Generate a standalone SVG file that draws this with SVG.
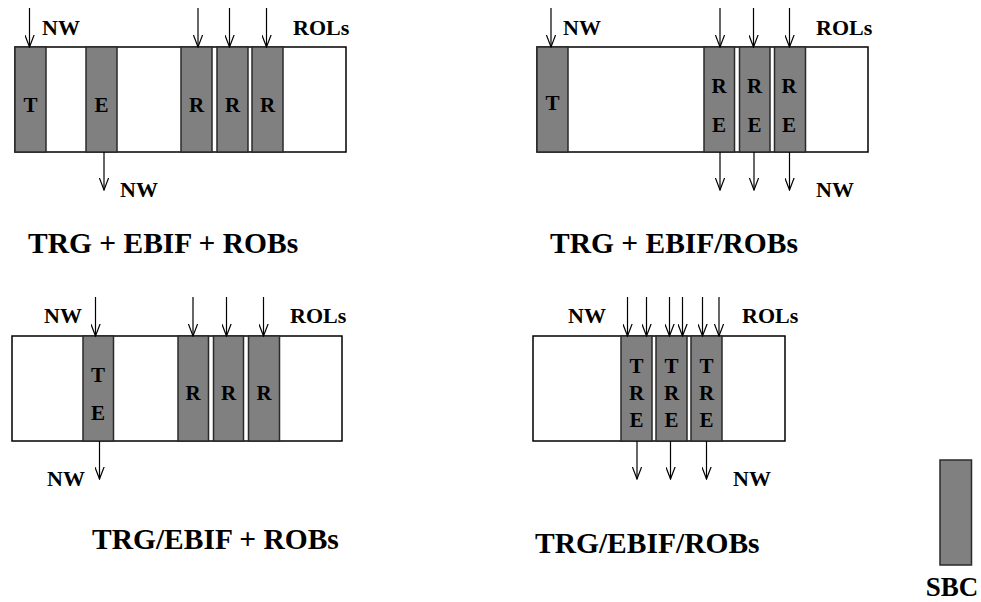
<svg xmlns="http://www.w3.org/2000/svg" width="981" height="602" viewBox="0 0 981 602" font-family="'Liberation Serif', 'Times New Roman', 'DejaVu Serif', serif" font-weight="bold">
<style>
text{font-family:'Liberation Serif','Times New Roman','DejaVu Serif',serif;font-weight:bold;fill:#000}
.lbl{font-size:22px}
.let{font-size:21px}
.cap{font-size:29.5px}
.mid{text-anchor:middle}
.box{fill:#fff;stroke:#000;stroke-width:1.5}
.bar{fill:#808080;stroke:#2a2a2a;stroke-width:1.5}
.arr{stroke:#000;stroke-width:1.2;fill:none;marker-end:url(#ah)}
</style>
<defs>
<marker id="ah" viewBox="0 0 13 10" refX="12.3" refY="5" markerWidth="13" markerHeight="10" markerUnits="userSpaceOnUse" orient="auto">
<path d="M0,0.3 L12.3,5 L0,9.7" fill="none" stroke="#000" stroke-width="1.2"/>
</marker>
</defs>
<rect width="981" height="602" fill="#fff"/>

<!-- Panel 1 -->
<g id="panel1">
<rect class="box" x="15" y="47" width="331" height="105"/>
<g id="p1-T"><rect class="bar" x="15" y="47" width="31" height="105"/><text class="let mid" x="30.5" y="112">T</text></g>
<g id="p1-E"><rect class="bar" x="86" y="47" width="31" height="105"/><text class="let mid" x="101.5" y="112">E</text></g>
<g id="p1-R1"><rect class="bar" x="181" y="47" width="31" height="105"/><text class="let mid" x="196.5" y="112">R</text></g>
<g id="p1-R2"><rect class="bar" x="217" y="47" width="31" height="105"/><text class="let mid" x="232.5" y="112">R</text></g>
<g id="p1-R3"><rect class="bar" x="252" y="47" width="31" height="105"/><text class="let mid" x="267.5" y="112">R</text></g>
<text class="lbl" x="42" y="35">NW</text>
<text class="lbl" x="293" y="35">ROLs</text>
<text class="lbl" x="120" y="197">NW</text>
<text class="cap" x="28" y="253">TRG + EBIF + ROBs</text>
</g>

<!-- Panel 2 -->
<g id="panel2">
<rect class="box" x="537" y="47" width="331" height="105"/>
<g id="p2-T"><rect class="bar" x="537" y="47" width="31" height="105"/><text class="let mid" x="552.5" y="110">T</text></g>
<g id="p2-RE1"><rect class="bar" x="704" y="47" width="30.5" height="105"/><text class="let mid" x="719" y="93">R</text><text class="let mid" x="719" y="132">E</text></g>
<g id="p2-RE2"><rect class="bar" x="739.5" y="47" width="30.5" height="105"/><text class="let mid" x="754.5" y="93">R</text><text class="let mid" x="754.5" y="132">E</text></g>
<g id="p2-RE3"><rect class="bar" x="774.5" y="47" width="31" height="105"/><text class="let mid" x="789" y="93">R</text><text class="let mid" x="789" y="132">E</text></g>
<text class="lbl" x="563" y="35">NW</text>
<text class="lbl" x="816" y="35">ROLs</text>
<text class="lbl" x="816" y="197">NW</text>
<text class="cap" x="550" y="253">TRG + EBIF/ROBs</text>
</g>

<!-- Panel 3 -->
<g id="panel3">
<rect class="box" x="12" y="336" width="330" height="105"/>
<g id="p3-TE"><rect class="bar" x="83" y="336" width="30.5" height="105"/><text class="let mid" x="98" y="382">T</text><text class="let mid" x="98" y="420">E</text></g>
<g id="p3-R1"><rect class="bar" x="178" y="336" width="30.5" height="105"/><text class="let mid" x="193" y="400">R</text></g>
<g id="p3-R2"><rect class="bar" x="213.5" y="336" width="30" height="105"/><text class="let mid" x="228.5" y="400">R</text></g>
<g id="p3-R3"><rect class="bar" x="248.5" y="336" width="31" height="105"/><text class="let mid" x="264" y="400">R</text></g>
<text class="lbl" x="44" y="323">NW</text>
<text class="lbl" x="290" y="323">ROLs</text>
<text class="lbl" x="47" y="486">NW</text>
<text class="cap" x="92" y="549">TRG/EBIF + ROBs</text>
</g>

<!-- Panel 4 -->
<g id="panel4">
<rect class="box" x="533" y="336" width="252" height="105"/>
<g id="p4-TRE1"><rect class="bar" x="621" y="336" width="31" height="105"/><text class="let mid" x="636.5" y="373">T</text><text class="let mid" x="636.5" y="400">R</text><text class="let mid" x="636.5" y="427">E</text></g>
<g id="p4-TRE2"><rect class="bar" x="656" y="336" width="31" height="105"/><text class="let mid" x="671.5" y="373">T</text><text class="let mid" x="671.5" y="400">R</text><text class="let mid" x="671.5" y="427">E</text></g>
<g id="p4-TRE3"><rect class="bar" x="691" y="336" width="31" height="105"/><text class="let mid" x="706.5" y="373">T</text><text class="let mid" x="706.5" y="400">R</text><text class="let mid" x="706.5" y="427">E</text></g>
<text class="lbl" x="568" y="323">NW</text>
<text class="lbl" x="742" y="323">ROLs</text>
<text class="lbl" x="733" y="486">NW</text>
<text class="cap" x="535" y="553">TRG/EBIF/ROBs</text>
</g>

<!-- Legend -->
<g id="sbc">
<rect class="bar" x="940" y="460" width="31.5" height="105"/>
<text class="cap mid" x="952" y="596" style="font-size:27px">SBC</text>
</g>

<!-- Connectors -->
<g id="connectors">
<line class="arr" x1="29.5" y1="8" x2="29.5" y2="47"/>
<line class="arr" x1="198" y1="8" x2="198" y2="47"/>
<line class="arr" x1="229.5" y1="8" x2="229.5" y2="47"/>
<line class="arr" x1="266.5" y1="8" x2="266.5" y2="47"/>
<line class="arr" x1="104" y1="152" x2="104" y2="190"/>

<line class="arr" x1="551" y1="8" x2="551" y2="47"/>
<line class="arr" x1="720" y1="8" x2="720" y2="47"/>
<line class="arr" x1="753.5" y1="8" x2="753.5" y2="47"/>
<line class="arr" x1="789.5" y1="8" x2="789.5" y2="47"/>
<line class="arr" x1="720" y1="152" x2="720" y2="190"/>
<line class="arr" x1="754" y1="152" x2="754" y2="190"/>
<line class="arr" x1="789.5" y1="152" x2="789.5" y2="190"/>

<line class="arr" x1="95.5" y1="297" x2="95.5" y2="336"/>
<line class="arr" x1="193" y1="297" x2="193" y2="336"/>
<line class="arr" x1="226.5" y1="297" x2="226.5" y2="336"/>
<line class="arr" x1="263.5" y1="297" x2="263.5" y2="336"/>
<line class="arr" x1="99.5" y1="441" x2="99.5" y2="479"/>

<line class="arr" x1="627.5" y1="297" x2="627.5" y2="336"/>
<line class="arr" x1="646.5" y1="297" x2="646.5" y2="336"/>
<line class="arr" x1="669.5" y1="297" x2="669.5" y2="336"/>
<line class="arr" x1="682.5" y1="297" x2="682.5" y2="336"/>
<line class="arr" x1="702.5" y1="297" x2="702.5" y2="336"/>
<line class="arr" x1="719" y1="297" x2="719" y2="336"/>
<line class="arr" x1="637" y1="441" x2="637" y2="479"/>
<line class="arr" x1="670.5" y1="441" x2="670.5" y2="479"/>
<line class="arr" x1="706.5" y1="441" x2="706.5" y2="479"/>
</g>
</svg>
